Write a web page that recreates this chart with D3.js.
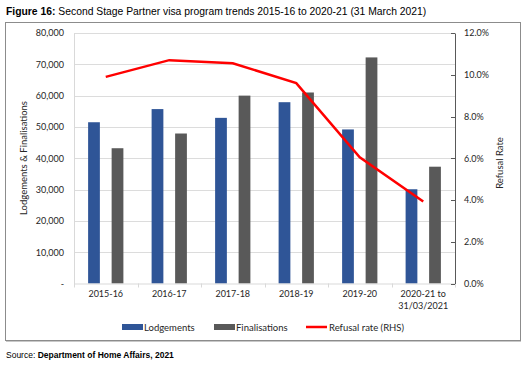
<html>
<script src="https://d3js.org/d3.v7.min.js"></script>
<style>
body {margin:0; background:#fff;}
text {font-family: Lato, "Open Sans", sans-serif;}
</style>
<body>
<svg width=525 height=367></svg>
<script>
var categories = ["2015-16", "2016-17", "2017-18", "2018-19", "2019-20", "2020-21 to|31/03/2021"];
var lodgements = [51500, 55700, 52900, 57900, 49200, 30100];
var finalisations = [43200, 47900, 60000, 61000, 72200, 37300];
var refusalRate = [9.9, 10.7, 10.55, 9.6, 6.05, 3.93];
var leftTicks = [0, 10000, 20000, 30000, 40000, 50000, 60000, 70000, 80000];
var rightTicks = [0, 2, 4, 6, 8, 10, 12];

var svg = d3.select("svg");
var plotLeft = 74, plotRight = 455, plotTop = 33, plotBottom = 283.5;

// title
var title = svg.append("text").attr("x", 6).attr("y", 15)
  .style("font-family", "'Liberation Sans', Arial, sans-serif").style("font-size", "10.35px");
title.append("tspan").style("font-weight", "bold").text("Figure 16:");
title.append("tspan").text(" Second Stage Partner visa program trends 2015-16 to 2020-21 (31 March 2021)");

// frame
svg.append("rect").attr("x", 5.5).attr("y", 22.5).attr("width", 515).attr("height", 318)
  .attr("fill", "none").attr("stroke", "#8c8c8c");
svg.append("line").attr("x1", 6).attr("x2", 521).attr("y1", 341.5).attr("y2", 341.5).attr("stroke", "#c8c8c8");

var x0 = d3.scaleBand().domain(categories).range([plotLeft, plotRight]);
var x1 = d3.scaleBand().domain(["l", "f"]).range([0, x0.bandwidth()]).paddingInner(0.5).paddingOuter(0.6);
var y = d3.scaleLinear().domain([0, 80000]).range([plotBottom, plotTop]);
var yr = d3.scaleLinear().domain([0, 12]).range([plotBottom, plotTop]);

// gridlines
svg.append("g").selectAll("line").data(leftTicks.slice(1)).enter().append("line")
  .attr("x1", plotLeft).attr("x2", plotRight)
  .attr("y1", function(d){return Math.round(y(d)) + 0.5;})
  .attr("y2", function(d){return Math.round(y(d)) + 0.5;})
  .attr("stroke", "#dcdcdc");

// left axis
var la = svg.append("g").attr("transform", "translate(" + plotLeft + ",0)")
  .call(d3.axisLeft(y).tickValues(leftTicks).tickSize(0).tickPadding(10)
    .tickFormat(function(d){return d == 0 ? "-" : d3.format(",")(d);}));
la.select(".domain").attr("stroke", "#d9d9d9");
la.selectAll("text").style("font-size", "9px").attr("fill", "#262626");

// bars
var groups = svg.append("g").selectAll("g").data(categories).enter().append("g")
  .attr("transform", function(d){return "translate(" + x0(d) + ",0)";});
groups.append("rect")
  .attr("x", x1("l")).attr("width", x1.bandwidth())
  .attr("y", function(d, i){return y(lodgements[i]);})
  .attr("height", function(d, i){return plotBottom - y(lodgements[i]);})
  .attr("fill", "#2f5597");
groups.append("rect")
  .attr("x", x1("f")).attr("width", x1.bandwidth())
  .attr("y", function(d, i){return y(finalisations[i]);})
  .attr("height", function(d, i){return plotBottom - y(finalisations[i]);})
  .attr("fill", "#595959");

// bottom axis
var ba = svg.append("g").attr("transform", "translate(0," + plotBottom + ")")
  .call(d3.axisBottom(x0).tickSize(0).tickFormat(""));
ba.select(".domain").attr("stroke", "#d9d9d9");
svg.append("g").selectAll("line").data(d3.range(categories.length + 1)).enter().append("line")
  .attr("x1", function(i){return Math.round(plotLeft + i * x0.step()) + 0.5;})
  .attr("x2", function(i){return Math.round(plotLeft + i * x0.step()) + 0.5;})
  .attr("y1", plotBottom).attr("y2", plotBottom + 4).attr("stroke", "#d9d9d9");
svg.append("g").selectAll("text").data(categories).enter().append("text")
  .attr("x", function(d){return x0(d) + x0.bandwidth() / 2;})
  .attr("y", 297).attr("text-anchor", "middle").style("font-size", "9px").attr("fill", "#262626")
  .each(function(d){
    var parts = d.split("|");
    var t = d3.select(this);
    parts.forEach(function(p, j){
      t.append("tspan").attr("x", t.attr("x")).attr("dy", j == 0 ? 0 : 11.5).text(p);
    });
  });

// right axis
var ra = svg.append("g").attr("transform", "translate(" + plotRight + ",0)")
  .call(d3.axisRight(yr).tickValues(rightTicks).tickSize(0).tickPadding(9)
    .tickFormat(function(d){return d.toFixed(1) + "%";}));
ra.select(".domain").attr("stroke", "#595959");
ra.selectAll("text").style("font-size", "9px").attr("fill", "#262626");
svg.append("g").selectAll("line").data(rightTicks).enter().append("line")
  .attr("x1", plotRight - 4).attr("x2", plotRight)
  .attr("y1", function(d){return Math.round(yr(d)) + 0.5;})
  .attr("y2", function(d){return Math.round(yr(d)) + 0.5;})
  .attr("stroke", "#595959");

// refusal line
var line = d3.line()
  .x(function(d, i){return x0(categories[i]) + x0.bandwidth() / 2;})
  .y(function(d){return yr(d);});
svg.append("path").datum(refusalRate).attr("d", line)
  .attr("fill", "none").attr("stroke", "#ff0000").attr("stroke-width", 2.5);

// axis titles
svg.append("text").attr("transform", "translate(27,158) rotate(-90)")
  .attr("text-anchor", "middle").style("font-size", "9.5px").attr("fill", "#262626")
  .text("Lodgements & Finalisations");
svg.append("text").attr("transform", "translate(503,163) rotate(-90)")
  .attr("text-anchor", "middle").style("font-size", "9.5px").attr("fill", "#262626")
  .text("Refusal Rate");

// legend
var legend = svg.append("g").attr("transform", "translate(0,327)");
legend.append("rect").attr("x", 122).attr("y", -3).attr("width", 21).attr("height", 6).attr("fill", "#2f5597");
legend.append("text").attr("x", 144).attr("y", 3.5).style("font-size", "9.5px").attr("fill", "#262626").text("Lodgements");
legend.append("rect").attr("x", 214).attr("y", -3).attr("width", 21).attr("height", 6).attr("fill", "#595959");
legend.append("text").attr("x", 236).attr("y", 3.5).style("font-size", "9.5px").attr("fill", "#262626").text("Finalisations");
legend.append("line").attr("x1", 306).attr("x2", 327).attr("y1", 0).attr("y2", 0).attr("stroke", "#ff0000").attr("stroke-width", 2.5);
legend.append("text").attr("x", 329).attr("y", 3.5).style("font-size", "9.5px").attr("fill", "#262626").text("Refusal rate (RHS)");

// source
var src = svg.append("text").attr("x", 6).attr("y", 358)
  .style("font-family", "'Liberation Sans', Arial, sans-serif").style("font-size", "8.5px");
src.append("tspan").text("Source: ");
src.append("tspan").style("font-weight", "bold").text("Department of Home Affairs, 2021");
</script>
</body>
</html>
